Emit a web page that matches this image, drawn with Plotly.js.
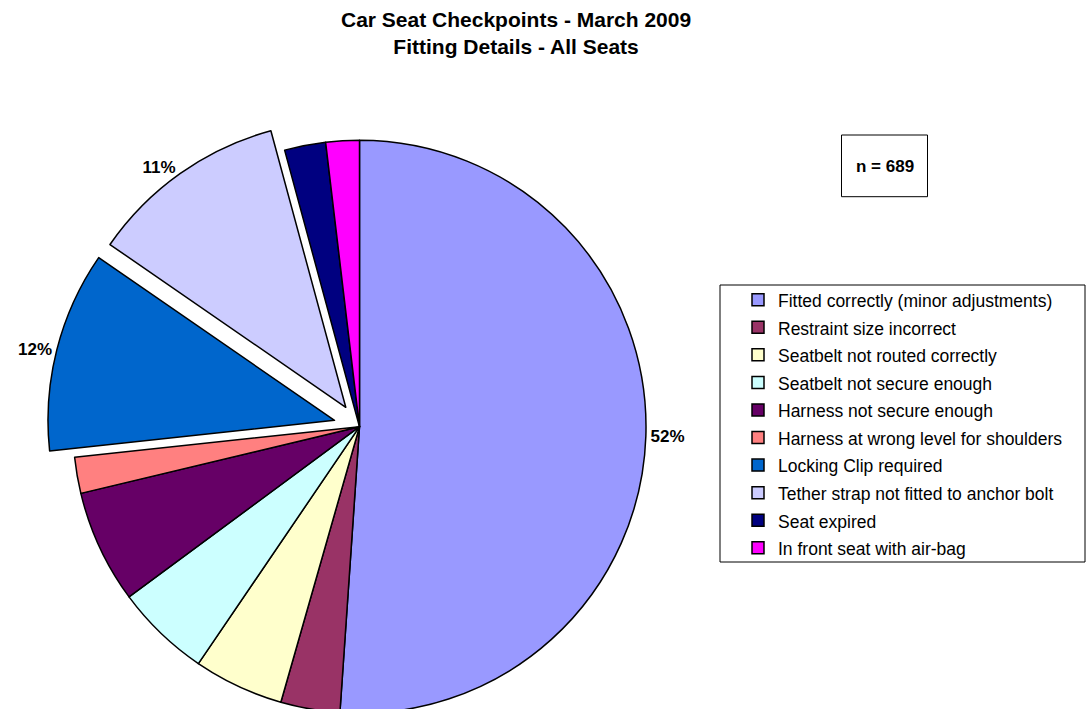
<!DOCTYPE html>
<html>
<head>
<meta charset="utf-8">
<script src="https://cdn.plot.ly/plotly-3.0.1.min.js"></script>
<style>
html, body { margin: 0; padding: 0; width: 1087px; height: 709px; overflow: hidden; background: #fff; }
#wrap { width: 1087px; height: 709px; overflow: hidden; }
#chart { width: 1087px; height: 745px; }
</style>
</head>
<body>
<div id="wrap"><div id="chart"></div></div>
<script>
// ---- data ----
const categories = [
  "Fitted correctly (minor adjustments)",
  "Restraint size incorrect",
  "Seatbelt not routed correctly",
  "Seatbelt not secure enough",
  "Harness not secure enough",
  "Harness at wrong level for shoulders",
  "Locking Clip required",
  "Tether strap not fitted to anchor bolt",
  "Seat expired",
  "In front seat with air-bag"
];
const seatCounts = [352, 23, 35, 37, 44, 14, 78, 77, 16, 13];
const sliceLabels = ["52%", "", "", "", "", "", "12%", "11%", "", ""];
const totalSeats = 689;
const titleLines = ["Car Seat Checkpoints - March 2009", "Fitting Details - All Seats"];

// ---- styling ----
const colors = ["#9999FF", "#993366", "#FFFFCC", "#CCFFFF", "#660066",
                "#FF8080", "#0066CC", "#CCCCFF", "#000080", "#FF00FF"];
const pulls = [0, 0, 0, 0, 0, 0, 0.09, 0.083, 0, 0];

const W = 1087, H = 745;
const fx = x => x / W;
const fy = y => 1 - y / H;
const FONT = "Arial, 'Liberation Sans', sans-serif";

const trace = {
  type: "pie",
  values: seatCounts,
  labels: categories.map(c => '<span style="font-size:17.5px">' + c + '</span>'),
  text: sliceLabels,
  textinfo: "text",
  textposition: sliceLabels.map(t => t ? "outside" : "none"),
  outsidetextfont: { family: FONT, size: 17, color: "#000", weight: "bold" },
  sort: false,
  direction: "clockwise",
  rotation: 0,
  pull: pulls,
  marker: { colors: colors, line: { color: "#000", width: 1.5 } },
  domain: { x: [fx(47.2), fx(671.8)], y: [fy(739.0), fy(114.4)] },
  automargin: false,
  hoverinfo: "label+value+percent"
};

const layout = {
  width: W, height: H,
  margin: { l: 0, r: 0, t: 0, b: 0 },
  paper_bgcolor: "#fff",
  font: { family: FONT, color: "#000" },
  showlegend: true,
  legend: {
    x: fx(738), y: fy(280.9), xanchor: "left", yanchor: "top",
    font: { family: FONT, size: 18.9, color: "#000" },
    bgcolor: "rgba(0,0,0,0)", borderwidth: 0, traceorder: "normal"
  },
  shapes: [
    { type: "rect", xref: "paper", yref: "paper",
      x0: fx(720), x1: fx(1085), y0: fy(562), y1: fy(285),
      line: { color: "#000", width: 1 }, fillcolor: "rgba(0,0,0,0)" },
    { type: "rect", xref: "paper", yref: "paper",
      x0: fx(841.5), x1: fx(927.5), y0: fy(196.7), y1: fy(135),
      line: { color: "#000", width: 1 }, fillcolor: "rgba(0,0,0,0)" }
  ],
  annotations: [
    { xref: "paper", yref: "paper", x: fx(516), y: fy(6), xanchor: "center", yanchor: "top",
      text: "<b>" + titleLines.join("<br>") + "</b>", showarrow: false,
      font: { family: FONT, size: 21, color: "#000" } },
    { xref: "paper", yref: "paper", x: fx(884.5), y: fy(166), xanchor: "center", yanchor: "middle",
      text: "<b>n = " + totalSeats + "</b>", showarrow: false,
      font: { family: FONT, size: 17, color: "#000" } }
  ]
};

Plotly.newPlot("chart", [trace], layout, { staticPlot: true, displayModeBar: false });
</script>
</body>
</html>
